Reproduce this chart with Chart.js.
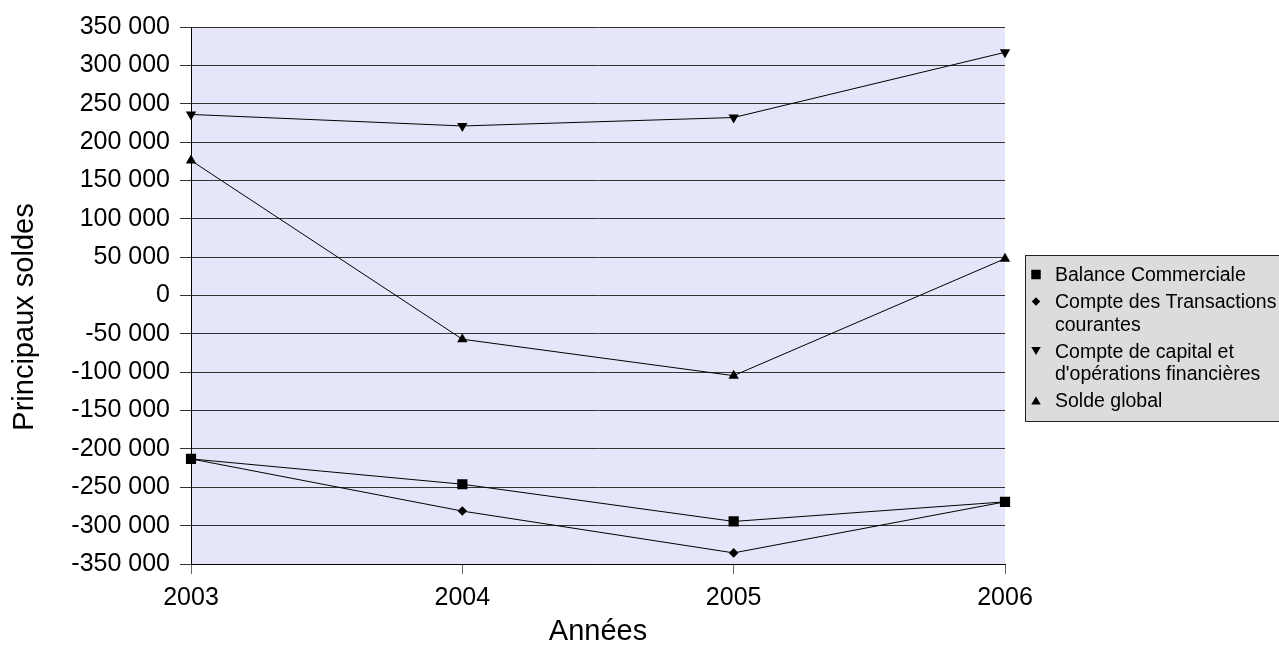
<!DOCTYPE html>
<html>
<head>
<meta charset="utf-8">
<script src="https://cdn.jsdelivr.net/npm/chart.js@4/dist/chart.umd.min.js"></script>
<style>
  html, body { margin: 0; padding: 0; background: #fff; overflow: hidden; }
  #wrap { position: relative; width: 1279px; height: 646px; }
</style>
</head>
<body>
<div id="wrap"><canvas id="c" width="1279" height="646"></canvas></div>
<script>
// Années
const years = ['2003', '2004', '2005', '2006'];

// Principaux soldes (valeurs par année)
const balanceCommerciale = [-213000, -246000, -294500, -269000];
const transactionsCourantes = [-213000, -281000, -335500, -269000];
const capitalOperations = [236000, 221000, 232000, 317000];
const soldeGlobal = [176000, -57000, -104500, 48000];

// Libellés de la légende (une ligne par entrée du tableau)
const seriesLabels = [
  ['Balance Commerciale'],
  ['Compte des Transactions', 'courantes'],
  ['Compte de capital et', "d'opérations financières"],
  ['Solde global']
];
const pointStyles = ['rect', 'rectRot', 'triangleDown', 'triangle'];

const yTitle = 'Principaux soldes';
const xTitle = 'Années';
const yMin = -350000, yMax = 350000, yStep = 50000;

function formatThousands(v) {
  const s = Math.abs(v).toString().replace(/\B(?=(\d{3})+(?!\d))/g, ' ');
  return (v < 0 ? '-' : '') + s;
}

const FONT = '"Liberation Sans", Arial, sans-serif';

// Fond lavande de la zone de tracé
const plotBackground = {
  id: 'plotBackground',
  beforeDraw(chart) {
    const { ctx, chartArea: a } = chart;
    ctx.save();
    ctx.fillStyle = '#e6e6fa';
    ctx.fillRect(a.left, a.top, a.right - a.left, a.bottom - a.top);
    ctx.restore();
  }
};

// Titre vertical de l'axe des ordonnées
const verticalTitle = {
  id: 'verticalTitle',
  afterDraw(chart) {
    const ctx = chart.ctx;
    ctx.save();
    ctx.translate(25, 317);
    ctx.rotate(-Math.PI / 2);
    ctx.font = '29px ' + FONT;
    ctx.fillStyle = '#000';
    ctx.textAlign = 'center';
    ctx.textBaseline = 'middle';
    ctx.fillText(yTitle, 0, 0);
    ctx.restore();
  }
};

function drawMarker(ctx, style, x, y, s) {
  ctx.beginPath();
  if (style === 'rect') {
    ctx.rect(x - s / 2, y - s / 2, s, s);
  } else if (style === 'rectRot') {
    const r = s / 2;
    ctx.moveTo(x, y - r); ctx.lineTo(x + r, y); ctx.lineTo(x, y + r); ctx.lineTo(x - r, y);
    ctx.closePath();
  } else if (style === 'triangle') {
    const h = s * 0.85;
    ctx.moveTo(x, y - h / 2); ctx.lineTo(x + s / 2, y + h / 2); ctx.lineTo(x - s / 2, y + h / 2);
    ctx.closePath();
  } else if (style === 'triangleDown') {
    const h = s * 0.85;
    ctx.moveTo(x - s / 2, y - h / 2); ctx.lineTo(x + s / 2, y - h / 2); ctx.lineTo(x, y + h / 2);
    ctx.closePath();
  }
  ctx.fill();
}

// Légende encadrée à droite, avec libellés sur plusieurs lignes
const boxLegend = {
  id: 'boxLegend',
  afterDraw(chart) {
    const ctx = chart.ctx;
    ctx.save();
    const x0 = 1025.5, y0 = 255.5, w = 300, h = 166;
    ctx.fillStyle = '#dcdcdc';
    ctx.fillRect(x0, y0, w, h);
    ctx.strokeStyle = '#222';
    ctx.lineWidth = 1;
    ctx.strokeRect(x0, y0, w, h);
    ctx.font = '19.5px ' + FONT;
    ctx.textBaseline = 'alphabetic';
    ctx.textAlign = 'left';
    const lineH = 22.5, itemGap = 27;
    let base = 281;
    chart.data.datasets.forEach((ds, i) => {
      ctx.fillStyle = '#000';
      drawMarker(ctx, pointStyles[i], 1036, base - 6.5, pointStyles[i] === 'rectRot' ? 8.5 : 9.5);
      ds.labelLines.forEach((t, j) => {
        ctx.fillText(t, 1055, base + j * lineH);
      });
      base += (ds.labelLines.length - 1) * lineH + itemGap;
    });
    ctx.restore();
  }
};

function makeDataset(values, i, radius) {
  const style = pointStyles[i] === 'triangleDown' ? 'triangle' : pointStyles[i];
  return {
    label: seriesLabels[i].join(' '),
    labelLines: seriesLabels[i],
    data: values,
    borderColor: '#000',
    backgroundColor: '#000',
    borderWidth: 1,
    pointStyle: style,
    pointRotation: pointStyles[i] === 'triangleDown' ? 180 : 0,
    pointRadius: radius,
    pointBorderWidth: 0,
    pointBackgroundColor: '#000',
    tension: 0,
    fill: false
  };
}

new Chart(document.getElementById('c'), {
  type: 'line',
  data: {
    labels: years,
    datasets: [
      makeDataset(balanceCommerciale, 0, 7.2),
      makeDataset(transactionsCourantes, 1, 4.8),
      makeDataset(capitalOperations, 2, 6),
      makeDataset(soldeGlobal, 3, 6)
    ]
  },
  options: {
    responsive: false,
    animation: false,
    events: [],
    layout: { padding: { left: 0, right: 274, top: 27, bottom: 0 } },
    plugins: {
      legend: { display: false },
      tooltip: { enabled: false }
    },
    scales: {
      x: {
        type: 'category',
        offset: false,
        grid: {
          display: true,
          drawOnChartArea: false,
          drawTicks: true,
          tickLength: 10,
          color: '#666'
        },
        border: { display: true, color: '#000', width: 1 },
        ticks: {
          color: '#000',
          font: { family: FONT, size: 25 },
          padding: 9,
          maxRotation: 0,
          autoSkip: false
        },
        title: {
          display: true,
          text: xTitle,
          color: '#000',
          font: { family: FONT, size: 29, lineHeight: 1 },
          padding: { top: 0, bottom: 0 }
        },
        afterFit(scale) { scale.height = 82; }
      },
      y: {
        min: yMin,
        max: yMax,
        grid: {
          display: true,
          drawOnChartArea: true,
          drawTicks: true,
          tickLength: 11,
          color: '#333',
          lineWidth: 1
        },
        border: { display: true, color: '#000', width: 1 },
        ticks: {
          stepSize: yStep,
          color: '#000',
          font: { family: FONT, size: 25 },
          padding: 10,
          callback: (v) => formatThousands(v)
        },
        title: { display: false },
        afterFit(scale) { scale.width = 191; }
      }
    }
  },
  plugins: [plotBackground, verticalTitle, boxLegend]
});
</script>
</body>
</html>
